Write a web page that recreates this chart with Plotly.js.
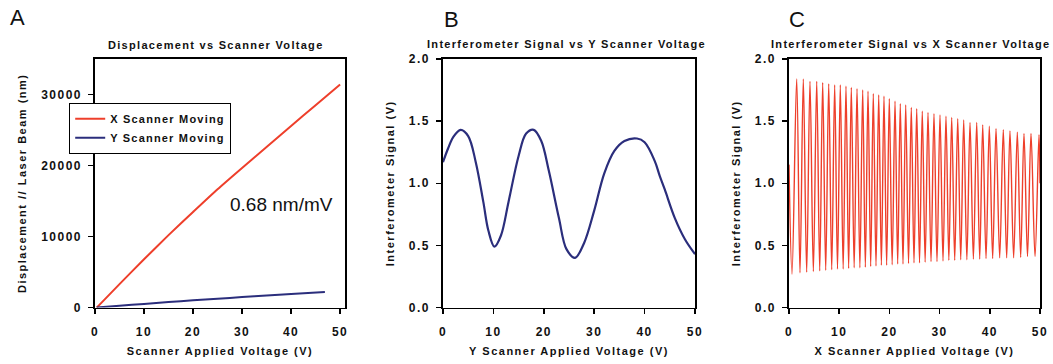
<!DOCTYPE html>
<html>
<head>
<meta charset="utf-8">
<script src="https://cdn.plot.ly/plotly-3.0.1.min.js"></script>
<style>
  html, body { margin: 0; padding: 0; background: #fff; }
  #chart { width: 1053px; height: 364px; }
  text { letter-spacing: 1.5px; }
  text.annotation-text { letter-spacing: 1.3px; }
  text.legendtext { letter-spacing: 1.2px; }
</style>
</head>
<body>
<div id="chart"></div>
<script>
// ---------- Panel A: displacement vs scanner voltage ----------
var voltsX = [0.35, 5, 10, 15, 20, 25, 30, 35, 40, 45, 50];
var dispX  = [0, 3300, 6800, 10200, 13450, 16650, 19650, 22600, 25550, 28500, 31400];
var voltsY = [0.35, 5, 10, 15, 20, 25, 30, 35, 40, 46.9];
var dispY  = [0, 250, 520, 780, 1020, 1250, 1480, 1700, 1920, 2200];

// ---------- Panel B: interferometer signal vs Y scanner voltage ----------
var voltsB  = [0, 1, 2, 3.5, 5, 6.5, 8, 9, 10.2, 11.5, 13, 15, 16.5, 18, 19.5, 21, 23, 24.5, 26.2, 28, 30, 32, 34, 36, 38.5, 40, 42, 43, 44, 46, 48, 50];
var signalB = [1.17, 1.28, 1.37, 1.43, 1.38, 1.17, 0.85, 0.62, 0.49, 0.58, 0.85, 1.22, 1.40, 1.43, 1.34, 1.10, 0.72, 0.47, 0.40, 0.52, 0.78, 1.08, 1.26, 1.34, 1.36, 1.33, 1.18, 1.06, 0.95, 0.72, 0.55, 0.43];

// ---------- Panel C: interferometer signal vs X scanner voltage ----------
var startC = {v: 0, s: 1.15};
var endC   = {v: 50, s: 1.0};
var troughVolts = [0.6, 2.19, 3.52, 4.85, 6.12, 7.31, 8.51, 9.66, 10.79, 11.88, 12.98, 14.12, 15.21, 16.27, 17.33, 18.40, 19.45, 20.55, 21.65, 22.71, 23.81, 24.90, 26.00, 27.12, 28.29, 29.48, 30.68, 31.84, 33.01, 34.21, 35.43, 36.73, 37.99, 39.25, 40.57, 41.97, 43.36, 44.75, 46.15, 47.51, 49.01];
var troughSignal = [0.27, 0.28, 0.285, 0.29, 0.295, 0.30, 0.305, 0.31, 0.31, 0.315, 0.32, 0.32, 0.325, 0.33, 0.335, 0.34, 0.34, 0.345, 0.35, 0.35, 0.355, 0.36, 0.36, 0.365, 0.37, 0.37, 0.375, 0.38, 0.38, 0.385, 0.385, 0.39, 0.39, 0.395, 0.395, 0.40, 0.40, 0.40, 0.405, 0.41, 0.41];
var peakVolts = [1.53, 2.85, 4.18, 5.52, 6.71, 7.91, 9.10, 10.22, 11.35, 12.41, 13.55, 14.68, 15.74, 16.79, 17.87, 18.92, 19.98, 21.12, 22.17, 23.25, 24.36, 25.44, 26.55, 27.69, 28.88, 30.08, 31.27, 32.41, 33.61, 34.80, 36.06, 37.39, 38.59, 39.90, 41.24, 42.69, 44.02, 45.48, 46.81, 48.21, 49.80];
var peakSignal = [1.84, 1.84, 1.82, 1.82, 1.81, 1.80, 1.79, 1.79, 1.78, 1.77, 1.76, 1.75, 1.74, 1.72, 1.71, 1.70, 1.68, 1.66, 1.64, 1.63, 1.61, 1.60, 1.58, 1.57, 1.56, 1.55, 1.54, 1.53, 1.52, 1.51, 1.49, 1.49, 1.47, 1.46, 1.44, 1.43, 1.42, 1.41, 1.40, 1.40, 1.39];

// tick labels
var tickA = [0, 10000, 20000, 30000];
var tickV = [0, 10, 20, 30, 40, 50];
var tickS = [0, 0.5, 1.0, 1.5, 2.0];

// build panel C path from read extremes
var voltsC = [startC.v], signalC = [startC.s];
for (var i = 0; i < peakVolts.length; i++) {
  voltsC.push(troughVolts[i]); signalC.push(troughSignal[i]);
  voltsC.push(peakVolts[i]);   signalC.push(peakSignal[i]);
}
voltsC.push(endC.v); signalC.push(endC.s);

var RED = '#ee3f2b';
var BLUE = '#2b2e7c';
var FONT = 'Liberation Sans, Arial, sans-serif';

var traces = [
  {x: voltsX, y: dispX, xaxis: 'x', yaxis: 'y', mode: 'lines', name: 'X Scanner Moving',
   line: {color: RED, width: 2, shape: 'spline', smoothing: 0.6}},
  {x: voltsY, y: dispY, xaxis: 'x', yaxis: 'y', mode: 'lines', name: 'Y Scanner Moving',
   line: {color: BLUE, width: 2, shape: 'spline', smoothing: 0.6}},
  {x: voltsB, y: signalB, xaxis: 'x2', yaxis: 'y2', mode: 'lines', showlegend: false,
   line: {color: BLUE, width: 2.2, shape: 'spline', smoothing: 1}},
  {x: voltsC, y: signalC, xaxis: 'x3', yaxis: 'y3', mode: 'lines', showlegend: false,
   line: {color: RED, width: 1.4, shape: 'spline', smoothing: 1}}
];

function xax(domain, range, title) {
  return {domain: domain, range: range, tickvals: tickV, showline: true, mirror: true,
    linecolor: '#000', linewidth: 1.6, ticks: 'outside', ticklen: 5, tickwidth: 1.5,
    tickcolor: '#000', showgrid: false, zeroline: false, fixedrange: true,
    ticklabelstandoff: 7,
    tickfont: {family: FONT, size: 12, weight: 'bold', color: '#111'},
    title: {text: title, standoff: 10, font: {family: FONT, size: 11, weight: 'bold', color: '#111'}}};
}
function yax(domain, range, vals, fmt, title, anchor) {
  return {domain: domain, range: range, tickvals: vals, tickformat: fmt, anchor: anchor,
    showline: true, mirror: true,
    linecolor: '#000', linewidth: 1.6, ticks: 'outside', ticklen: 5, tickwidth: 1.5,
    tickcolor: '#000', showgrid: false, zeroline: false, fixedrange: true,
    ticklabelstandoff: 4,
    tickfont: {family: FONT, size: 12, weight: 'bold', color: '#111'},
    title: {text: title, standoff: 12, font: {family: FONT, size: 11, weight: 'bold', color: '#111'}}};
}

function plain(t) { return '<span style="letter-spacing:0px">' + t + '</span>'; }

var yd = [0.155, 0.838];
var layout = {
  width: 1053, height: 364,
  margin: {l: 0, r: 0, t: 0, b: 0},
  paper_bgcolor: '#fff', plot_bgcolor: '#fff',
  font: {family: FONT, size: 11, color: '#111'},
  showlegend: true,
  legend: {x: 69 / 1053, y: 1 - 103 / 364, xanchor: 'left', yanchor: 'top',
    bgcolor: '#fff', bordercolor: '#000', borderwidth: 1.2,
    font: {family: FONT, size: 11, weight: 'bold', color: '#111'}},
  xaxis: Object.assign(xax([95 / 1053, 345 / 1053], [0, 51], 'Scanner Applied Voltage (V)'), {anchor: 'y'}),
  yaxis: yax(yd, [0, 35000], tickA, 'd', 'Displacement // Laser Beam (nm)', 'x'),
  xaxis2: Object.assign(xax([443 / 1053, 695 / 1053], [0, 50], 'Y Scanner Applied Voltage (V)'), {anchor: 'y2'}),
  yaxis2: yax(yd, [0, 2], tickS, '.1f', 'Interferometer Signal (V)', 'x2'),
  xaxis3: Object.assign(xax([789 / 1053, 1040 / 1053], [0, 50], 'X Scanner Applied Voltage (V)'), {anchor: 'y3'}),
  yaxis3: yax(yd, [0, 2], tickS, '.1f', 'Interferometer Signal (V)', 'x3'),
  annotations: [
    {text: 'Displacement vs Scanner Voltage', xref: 'paper', yref: 'paper', x: 216 / 1053, y: 1 - 45 / 364,
     xanchor: 'center', yanchor: 'middle', showarrow: false,
     font: {family: FONT, size: 11, weight: 'bold', color: '#111'}},
    {text: 'Interferometer Signal vs Y Scanner Voltage', xref: 'paper', yref: 'paper', x: 566 / 1053, y: 1 - 44 / 364,
     xanchor: 'center', yanchor: 'middle', showarrow: false,
     font: {family: FONT, size: 11, weight: 'bold', color: '#111'}},
    {text: 'Interferometer Signal vs X Scanner Voltage', xref: 'paper', yref: 'paper', x: 910 / 1053, y: 1 - 44 / 364,
     xanchor: 'center', yanchor: 'middle', showarrow: false,
     font: {family: FONT, size: 11, weight: 'bold', color: '#111'}},
    {text: plain('A'), xref: 'paper', yref: 'paper', x: 8 / 1053, y: 1 - 17 / 364,
     xanchor: 'left', yanchor: 'middle', showarrow: false,
     font: {family: FONT, size: 22, color: '#111'}},
    {text: plain('B'), xref: 'paper', yref: 'paper', x: 442 / 1053, y: 1 - 19 / 364,
     xanchor: 'left', yanchor: 'middle', showarrow: false,
     font: {family: FONT, size: 22, color: '#111'}},
    {text: plain('C'), xref: 'paper', yref: 'paper', x: 787 / 1053, y: 1 - 19 / 364,
     xanchor: 'left', yanchor: 'middle', showarrow: false,
     font: {family: FONT, size: 22, color: '#111'}},
    {text: plain('0.68 nm/mV'), xref: 'x', yref: 'y', x: 38, y: 14500,
     xanchor: 'center', yanchor: 'middle', showarrow: false,
     font: {family: FONT, size: 19, color: '#111'}}
  ]
};

Plotly.newPlot('chart', traces, layout, {displayModeBar: false, staticPlot: true});
</script>
</body>
</html>
